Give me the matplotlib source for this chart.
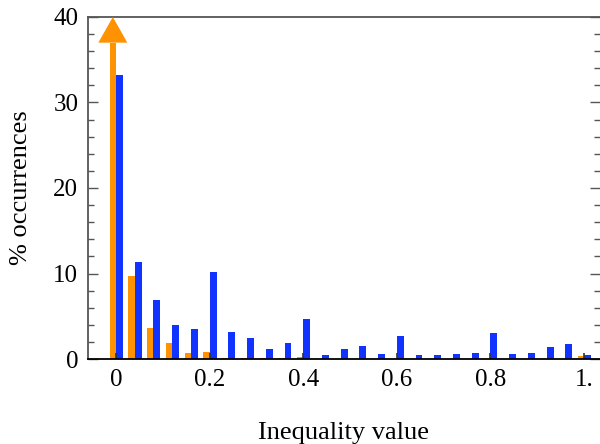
import matplotlib
matplotlib.use("Agg")
import matplotlib.pyplot as plt
import numpy as np
from matplotlib.patches import Polygon

plt.rcParams['font.family'] = ['Liberation Serif', 'DejaVu Serif']

bins = [0.00, 0.04, 0.08, 0.12, 0.16, 0.20, 0.24, 0.28, 0.32, 0.36, 0.40, 0.44, 0.48,
        0.52, 0.56, 0.60, 0.64, 0.68, 0.72, 0.76, 0.80, 0.84, 0.88, 0.92, 0.96, 1.00]
orange_vals = [65.0, 9.7, 3.65, 1.9, 0.75, 0.85, 0.15, 0.15, 0.15, 0.15, 0.25, 0.0, 0.0,
               0.0, 0.0, 0.0, 0.0, 0.0, 0.0, 0.0, 0.0, 0.0, 0.0, 0.0, 0.0, 0.3]
blue_vals = [33.2, 11.4, 6.9, 4.0, 3.5, 10.2, 3.2, 2.5, 1.2, 1.9, 4.7, 0.5, 1.2,
             1.55, 0.6, 2.7, 0.5, 0.5, 0.6, 0.7, 3.05, 0.6, 0.7, 1.4, 1.8, 0.5]
xticks = [0, 0.2, 0.4, 0.6, 0.8, 1.0]
xticklabels = ["0", "0.2", "0.4", "0.6", "0.8", "1."]
yticks = [0, 10, 20, 30, 40]

ORANGE = '#FF9200'
BLUE = '#1133FF'
YMAX = 40

fig = plt.figure(figsize=(6.0, 4.44), dpi=100)
ax = fig.add_axes([88/600, 85/444, 512/600, 342/444])

x = np.array(bins)
ov = np.array(orange_vals)
bv = np.array(blue_vals)
ow, bw = 0.0135, 0.0148

in_range = ov <= YMAX
ax.bar(x[in_range], ov[in_range], width=-ow, align='edge', color=ORANGE, linewidth=0)
# off-scale orange bars drawn as arrows
for xi, vi in zip(x[~in_range], ov[~in_range]):
    head_base = YMAX * 0.925
    ax.bar([xi], [head_base], width=-ow, align='edge', color=ORANGE, linewidth=0)
    cx = xi - ow / 2
    hw = 0.031
    ax.add_patch(Polygon([[cx - hw, head_base], [cx + hw, head_base], [cx, YMAX]],
                         closed=True, color=ORANGE, linewidth=0, clip_on=False, zorder=3))
ax.bar(x, bv, width=bw, align='edge', color=BLUE, linewidth=0)

ax.set_xlim(-0.0598, 1.034)
ax.set_ylim(0, YMAX)
ax.set_xticks(xticks)
ax.set_xticklabels(xticklabels)
ax.set_yticks(yticks)
ax.set_yticks(np.arange(0, 41, 2), minor=True)

ax.tick_params(axis='x', which='major', direction='in', length=4, width=1.2,
               color='#333333', labelsize=18, pad=7, top=False)
ax.tick_params(axis='x', which='minor', bottom=False, top=False)
ax.tick_params(axis='y', which='major', direction='in', length=7, width=1.0,
               color='#555555', labelsize=18, pad=7, left=True, right=True)
ax.tick_params(axis='y', which='minor', direction='in', length=4, width=1.0,
               color='#555555', left=True, right=True)

for s in ['left', 'top']:
    ax.spines[s].set_color('#555555')
    ax.spines[s].set_linewidth(1.3)
ax.spines['right'].set_visible(False)
ax.spines['bottom'].set_color('black')
ax.spines['bottom'].set_linewidth(1.3)

ax.set_xlabel("Inequality value", fontsize=19)
ax.xaxis.set_label_coords(0.5, -0.184)
ax.set_ylabel("% occurrences", fontsize=19)
ax.yaxis.set_label_coords(-0.109, 0.501)

fig.savefig("out.png", dpi=100)
